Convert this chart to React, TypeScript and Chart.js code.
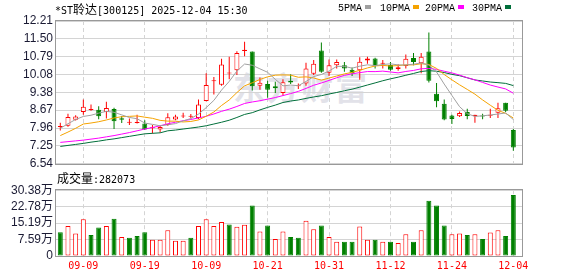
import { useEffect, useRef } from 'react';
import { Chart, registerables } from 'chart.js';

Chart.register(...registerables);

// ---------- data ----------
const dates = [
  '09-04', '09-05', '09-08', '09-09', '09-10', '09-11', '09-12', '09-15', '09-16', '09-17',
  '09-18', '09-19', '09-22', '09-23', '09-24', '09-25', '09-26', '09-29', '09-30', '10-09',
  '10-10', '10-13', '10-14', '10-15', '10-16', '10-17', '10-20', '10-21', '10-22', '10-23',
  '10-24', '10-27', '10-28', '10-29', '10-30', '10-31', '11-03', '11-04', '11-05', '11-06',
  '11-07', '11-10', '11-11', '11-12', '11-13', '11-14', '11-17', '11-18', '11-19', '11-20',
  '11-21', '11-24', '11-25', '11-26', '11-27', '11-28', '12-01', '12-02', '12-03', '12-04',
];
const labelDates = ['09-09', '09-19', '10-09', '10-21', '10-31', '11-12', '11-24', '12-04'];

const opens = [
  8.00, 8.05, 8.29, 8.60, 8.68, 8.69, 8.60, 8.72, 8.35, 8.17,
  8.16, 8.14, 7.95, 7.90, 8.08, 8.30, 8.42, 8.41, 8.36, 9.03,
  9.82, 9.68, 10.13, 10.25, 11.02, 11.00, 9.64, 9.71, 9.62, 9.35,
  9.84, 9.62, 9.73, 10.12, 11.04, 10.16, 10.45, 10.45, 10.27, 10.25,
  10.64, 10.72, 10.51, 10.46, 10.30, 10.42, 10.74, 10.53, 11.00, 9.32,
  8.92, 8.46, 8.43, 8.60, 8.43, 8.44, 8.45, 8.57, 8.96, 7.88,
];
const highs = [
  8.17, 8.53, 8.47, 9.09, 8.89, 8.83, 9.00, 8.77, 8.44, 8.34,
  8.49, 8.27, 8.08, 8.05, 8.55, 8.49, 8.57, 8.52, 9.09, 10.14,
  9.99, 10.71, 10.79, 11.01, 11.39, 11.00, 9.97, 9.84, 9.80, 9.90,
  10.10, 9.73, 10.55, 10.66, 11.36, 10.68, 10.68, 10.58, 10.36, 10.77,
  10.79, 10.75, 10.66, 10.58, 10.49, 10.88, 10.94, 10.94, 11.75, 9.75,
  9.09, 8.49, 8.62, 8.73, 8.49, 8.53, 8.73, 8.96, 8.96, 7.92,
];
const lows = [
  7.86, 8.01, 8.26, 8.49, 8.65, 8.31, 8.34, 7.92, 8.16, 8.08,
  8.14, 7.88, 7.74, 7.78, 8.05, 8.27, 8.36, 8.35, 8.31, 9.02,
  9.29, 9.64, 9.90, 10.07, 10.81, 9.45, 9.48, 9.16, 9.35, 9.24,
  9.71, 9.51, 9.64, 10.07, 10.16, 10.03, 10.32, 10.19, 10.03, 9.88,
  10.51, 10.32, 10.32, 10.23, 10.23, 10.32, 10.45, 10.14, 9.77, 8.79,
  8.27, 8.12, 8.40, 8.31, 8.17, 8.31, 8.36, 8.36, 8.60, 7.06,
];
const closes = [
  8.01, 8.40, 8.42, 8.81, 8.70, 8.43, 8.76, 8.23, 8.29, 8.19,
  8.18, 7.90, 7.97, 8.00, 8.39, 8.42, 8.44, 8.43, 8.89, 9.67,
  9.86, 10.48, 10.16, 10.94, 11.07, 9.62, 9.76, 9.48, 9.54, 9.78,
  9.77, 9.64, 10.32, 10.51, 10.19, 10.45, 10.58, 10.32, 10.14, 10.59,
  10.72, 10.42, 10.55, 10.27, 10.37, 10.71, 10.58, 10.79, 9.84, 9.02,
  8.30, 8.32, 8.56, 8.44, 8.49, 8.42, 8.48, 8.75, 8.65, 7.19,
];
const prevClose = 8.05;

// volume in 万 (10k shares)
const volumes = [
  11.0, 13.9, 10.4, 17.0, 9.7, 13.2, 13.9, 17.2, 8.8, 8.4,
  9.2, 11.0, 7.5, 7.5, 11.9, 7.0, 7.0, 8.4, 13.9, 17.0,
  13.9, 15.7, 14.5, 13.5, 14.4, 23.3, 11.3, 14.1, 7.8, 11.3,
  8.8, 8.4, 16.3, 12.3, 14.1, 8.8, 6.6, 6.6, 6.6, 13.6,
  7.5, 7.5, 6.6, 6.6, 6.0, 10.0, 6.6, 11.9, 25.5, 23.3,
  14.1, 10.0, 10.4, 9.7, 10.0, 7.9, 10.9, 11.9, 9.2, 28.2073,
];

// moving-average values at the start of the window
const ma5Head = [7.95, 8.13, 8.30, 8.42];
const ma10Head = [7.66, 7.80, 7.95, 8.12, 8.16, 8.21, 8.28, 8.36, 8.41];
const ma20Head = [7.39, 7.42, 7.45, 7.48, 7.52, 7.56, 7.61, 7.66, 7.72, 7.78, 7.85, 7.92, 7.98, 8.05, 8.13, 8.19, 8.25, 8.30, 8.36];
const ma30Head = [7.23, 7.27, 7.31, 7.35, 7.40, 7.44, 7.49, 7.53, 7.58, 7.63, 7.68, 7.73, 7.75, 7.77, 7.85, 7.88, 7.92, 7.96, 8.00, 8.05, 8.12, 8.19, 8.27, 8.38, 8.50, 8.57, 8.68, 8.78, 8.87];

const priceTicks = [6.54, 7.25, 7.96, 8.67, 9.38, 10.08, 10.79, 11.50, 12.21];
const volTicks = [0, 7.59, 15.19, 22.78, 30.38];

// ---------- styles ----------
const RED = '#ff0000';
const GREEN = '#008000';
const MA_COLORS = ['#a0a0a0', '#f5a300', '#ff00ff', '#006f3a'];
const FRAME = '#999999';
const GRID = '#d4d4d4';
const AXIS_FONT = "'Liberation Sans Narrow', 'Liberation Sans', 'Noto Sans CJK SC', sans-serif";
const MONO = "'DejaVu Sans Mono', monospace";
const CJK = "'Noto Sans CJK SC', sans-serif";
const X_MIN = -0.56;
const X_MAX = 60.13;

function movingAverage(head: number[], n: number): number[] {
  return closes.map((_, i) => {
    if (i < head.length) return head[i];
    const w = closes.slice(i - n + 1, i + 1);
    return w.reduce((a, b) => a + b, 0) / n;
  });
}

const tickIdx = labelDates.map((d) => dates.indexOf(d));

const framePlugin = {
  id: 'frame',
  afterDatasetsDraw(chart: any) {
    const { ctx, chartArea: a } = chart;
    ctx.save();
    ctx.strokeStyle = FRAME;
    ctx.lineWidth = 1;
    const l = Math.round(a.left) - 0.5;
    const t = Math.round(a.top) - 0.5;
    const r = Math.round(a.right) + 0.5;
    const b = Math.round(a.bottom) + 0.5;
    ctx.strokeRect(l, t, r - l, b - t);
    ctx.restore();
  },
};

function xScale(showLabels: boolean, height: number) {
  return {
    type: 'linear' as const,
    min: X_MIN,
    max: X_MAX,
    bounds: 'data' as const,
    offset: false,
    afterBuildTicks: (s: any) => {
      s.ticks = tickIdx.map((v) => ({ value: v }));
    },
    afterFit: (s: any) => {
      s.height = height;
    },
    grid: { color: GRID, lineWidth: 1, drawTicks: false, offset: false },
    border: { display: false, dash: [4, 3] },
    ticks: {
      display: showLabels,
      autoSkip: false,
      maxRotation: 0,
      padding: 4,
      color: RED,
      font: { family: MONO, size: 10 },
      callback: (v: any) => dates[Math.round(v)] ?? '',
    },
  };
}

export default function App() {
  const priceRef = useRef<HTMLCanvasElement>(null);
  const volRef = useRef<HTMLCanvasElement>(null);

  useEffect(() => {
    const isUp = closes.map((c, i) => c >= opens[i]);
    const volUp = closes.map((c, i) => c >= (i === 0 ? prevClose : closes[i - 1]));
    const mas = [movingAverage(ma5Head, 5), movingAverage(ma10Head, 10), movingAverage(ma20Head, 20), movingAverage(ma30Head, 30)];

    const lineSets = mas.map((arr, k) => ({
      type: 'line' as const,
      data: arr.map((v, i) => ({ x: i, y: v })),
      borderColor: MA_COLORS[k],
      borderWidth: 1,
      pointRadius: 0,
      tension: 0,
      fill: false,
      order: -1,
    }));

    const price = new Chart(priceRef.current!, {
      type: 'bar',
      data: {
        datasets: [
          ...lineSets,
          {
            type: 'bar',
            data: opens.map((o, i) => ({ x: i, y: [o, closes[i]] })),
            backgroundColor: isUp.map((u) => (u ? '#ffffff' : GREEN)),
            borderColor: isUp.map((u) => (u ? RED : GREEN)),
            borderWidth: 1,
            borderSkipped: false,
            barThickness: 5,
            minBarLength: 1,
            grouped: false,
            inflateAmount: 0,
            order: 0,
          },
          {
            type: 'bar',
            data: lows.map((l, i) => ({ x: i, y: [l, highs[i]] })),
            backgroundColor: isUp.map((u) => (u ? RED : GREEN)),
            borderWidth: 0,
            barThickness: 1,
            grouped: false,
            inflateAmount: 0,
            order: 1,
          },
        ] as any,
      },
      options: {
        responsive: false,
        maintainAspectRatio: false,
        animation: false,
        layout: { padding: { top: 21, right: 56, bottom: 8, left: 0 } },
        plugins: { legend: { display: false }, tooltip: { enabled: false } },
        scales: {
          x: xScale(false, 0) as any,
          y: {
            min: 6.54,
            max: 12.21,
            afterBuildTicks: (s: any) => {
              s.ticks = priceTicks.map((v) => ({ value: v }));
            },
            afterFit: (s: any) => {
              s.width = 56;
            },
            grid: { color: GRID, lineWidth: 1, drawTicks: false },
            border: { display: false },
            ticks: {
              autoSkip: false,
              padding: 3,
              color: '#1a1a33',
              font: { family: AXIS_FONT, size: 12 },
              callback: (v: any) => Number(v).toFixed(2),
            },
          },
        },
      },
      plugins: [framePlugin],
    });

    const vol = new Chart(volRef.current!, {
      type: 'bar',
      data: {
        datasets: [
          {
            data: volumes.map((v, i) => ({ x: i, y: v })),
            backgroundColor: volUp.map((u) => (u ? '#ffffff' : GREEN)),
            borderColor: volUp.map((u) => (u ? RED : GREEN)),
            borderWidth: 1,
            borderSkipped: false,
            barThickness: 5,
            grouped: false,
            inflateAmount: 0,
          },
        ] as any,
      },
      options: {
        responsive: false,
        maintainAspectRatio: false,
        animation: false,
        layout: { padding: { top: 7, right: 56, bottom: 0, left: 0 } },
        plugins: { legend: { display: false }, tooltip: { enabled: false } },
        scales: {
          x: xScale(true, 20) as any,
          y: {
            min: 0,
            max: 30.38,
            afterBuildTicks: (s: any) => {
              s.ticks = volTicks.map((v) => ({ value: v }));
            },
            afterFit: (s: any) => {
              s.width = 56;
            },
            grid: { color: GRID, lineWidth: 1, drawTicks: false },
            border: { display: false },
            ticks: {
              autoSkip: false,
              padding: 3,
              color: '#1a1a33',
              font: { family: AXIS_FONT, size: 12 },
              callback: (v: any) => (Number(v) === 0 ? '0' : Number(v).toFixed(2) + '万'),
            },
          },
        },
      },
      plugins: [framePlugin],
    });

    return () => {
      price.destroy();
      vol.destroy();
    };
  }, []);

  const legend = [
    { text: '5PMA', left: 338 },
    { text: '10PMA', left: 380 },
    { text: '20PMA', left: 425 },
    { text: '30PMA', left: 472 },
  ];

  return (
    <div style={{ position: 'absolute', left: 0, top: 0, width: 578, height: 276, background: '#ffffff', overflow: 'hidden' }}>
      <div
        style={{
          position: 'absolute',
          left: 233,
          top: 68,
          fontFamily: CJK,
          fontWeight: 700,
          fontSize: 32,
          lineHeight: '36px',
          color: '#e2e2e9',
          letterSpacing: 2,
          whiteSpace: 'nowrap',
        }}
      >
        东方财富
      </div>
      <canvas ref={priceRef} width={578} height={174} style={{ position: 'absolute', left: 0, top: 0, width: 578, height: 174 }} />
      <canvas ref={volRef} width={578} height={96} style={{ position: 'absolute', left: 0, top: 180, width: 578, height: 96 }} />
      <div style={{ position: 'absolute', left: 55, top: 3, fontFamily: MONO, fontSize: 10, lineHeight: '12px', color: '#000', whiteSpace: 'nowrap' }}>
        *ST<span style={{ fontFamily: CJK, fontSize: 12 }}>聆达</span>[300125] 2025-12-04 15:30
      </div>
      {legend.map((l, k) => (
        <div
          key={l.text}
          style={{ position: 'absolute', left: l.left, top: 3, fontFamily: "'Liberation Mono', monospace", fontSize: 10, lineHeight: '12px', color: '#000', whiteSpace: 'nowrap' }}
        >
          {l.text}
          <span style={{ display: 'inline-block', width: 6, height: 4, marginLeft: 3, marginBottom: 2, background: MA_COLORS[k], verticalAlign: 'middle' }} />
        </div>
      ))}
      <div style={{ position: 'absolute', left: 57, top: 171, lineHeight: '14px', color: '#000', whiteSpace: 'nowrap' }}>
        <span style={{ fontFamily: CJK, fontSize: 12 }}>成交量</span>
        <span style={{ fontFamily: MONO, fontSize: 10 }}>:282073</span>
      </div>
    </div>
  );
}
